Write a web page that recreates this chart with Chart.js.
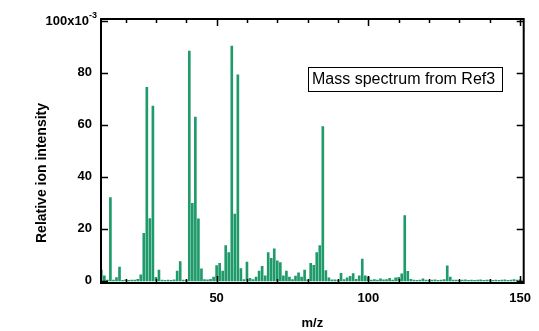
<!DOCTYPE html>
<html><head><meta charset="utf-8">
<script src="https://cdn.jsdelivr.net/npm/chart.js@4.4.1/dist/chart.umd.min.js"></script>
<style>html,body{margin:0;padding:0;background:#fff}</style>
</head><body>
<canvas id="c" width="539" height="331"></canvas>
<script>
// m/z values (categories)
const massToCharge = [
 12,13,14,15,16,17,18,19,20,21,22,23,24,25,26,27,28,29,30,31,32,33,34,35,36,37,38,39,40,
 41,42,43,44,45,46,47,48,49,50,51,52,53,54,55,56,57,58,59,60,61,62,63,64,65,66,67,68,69,70,
 71,72,73,74,75,76,77,78,79,80,81,82,83,84,85,86,87,88,89,90,91,92,93,94,95,96,97,98,99,100,
 101,102,103,104,105,106,107,108,109,110,111,112,113,114,115,116,117,118,119,120,
 121,122,123,124,125,126,127,128,129,130,131,132,133,134,135,136,137,138,139,140,
 141,142,143,144,145,146,147,148,149,150
];
// relative ion intensity, in units of 1e-3
const intensity = [
 4.2,2.0,0.3,32.0,0.3,1.3,5.3,0.2,0.4,0.2,0.3,0.3,0.6,2.3,18.3,74.4,23.9,67.2,1.4,4.2,0.3,0.2,0.3,0.2,0.4,3.8,7.4,0.3,0.3,
 88.3,29.8,62.9,23.8,4.6,0.5,0.4,0.6,1.5,5.9,6.8,3.8,13.6,10.9,90.2,25.7,79.2,4.7,0.5,7.2,1.0,0.5,1.5,3.8,5.6,2.0,10.9,8.7,12.3,7.7,
 7.0,2.0,3.8,1.5,0.5,1.9,3.1,1.5,4.2,0.4,6.8,6.0,10.9,13.6,59.3,4.0,1.2,0.4,0.4,0.3,2.9,0.5,1.2,1.8,2.8,0.6,2.0,8.4,2.0,1.5,
 0.3,0.5,0.3,0.8,0.4,0.5,1.0,0.3,1.2,1.4,2.7,25.1,3.7,0.6,0.3,0.2,0.3,0.8,0.3,0.2,
 0.3,0.4,0.2,0.3,0.5,5.8,1.5,0.3,0.3,0.2,0.3,0.4,0.2,0.3,0.2,0.3,0.4,0.2,0.3,0.3,
 0.2,0.3,0.2,0.3,0.4,0.2,0.3,0.5,0.3,0.4
];
const xTickValues = [50, 100, 150];
const xMinorTickValues = [20, 30, 40, 60, 70, 80, 90, 110, 120, 130, 140];
const yTickValues = [0, 20, 40, 60, 80, 100];
const yTopLabel = '100x10';
const yTopLabelExponent = '-3';
const xTitle = 'm/z';
const yTitle = 'Relative ion intensity';
const legendText = 'Mass spectrum from Ref3';

const FONT = "'Liberation Sans', Arial, sans-serif";

const framePlugin = {
  id: 'frame',
  afterDatasetsDraw(chart) {
    const ctx = chart.ctx, a = chart.chartArea;
    const xs = chart.scales.x, ys = chart.scales.y;
    ctx.save();
    ctx.strokeStyle = '#000';
    ctx.lineWidth = 1.5;
    ctx.beginPath();
    const tick = (vals, len) => {
      vals.forEach(v => {
        const px = Math.round(xs.getPixelForValue(v)) + 0.5;
        ctx.moveTo(px, a.bottom); ctx.lineTo(px, a.bottom - len);
        ctx.moveTo(px, a.top); ctx.lineTo(px, a.top + len);
      });
    };
    tick(xTickValues, 7);
    tick(xMinorTickValues, 4);
    yTickValues.forEach(v => {
      const py = Math.round(ys.getPixelForValue(v)) + 0.5;
      ctx.moveTo(a.left, py); ctx.lineTo(a.left + 7, py);
      ctx.moveTo(a.right, py); ctx.lineTo(a.right - 7, py);
    });
    ctx.stroke();
    ctx.lineWidth = 2;
    ctx.strokeRect(a.left, a.top, a.right - a.left, a.bottom - a.top);
    const yTop = ys.getPixelForValue(yTickValues[yTickValues.length - 1]);
    ctx.fillStyle = '#000';
    ctx.textBaseline = 'middle';
    ctx.textAlign = 'right';
    ctx.font = 'bold 13px ' + FONT;
    ctx.fillText(yTopLabel, a.left - 12, yTop + 0.5);
    ctx.textAlign = 'left';
    ctx.font = 'bold 9px ' + FONT;
    ctx.fillText(yTopLabelExponent, a.left - 12, yTop - 5);
    ctx.save();
    ctx.translate(42, 173);
    ctx.rotate(-Math.PI / 2);
    ctx.textAlign = 'center';
    ctx.font = 'bold 14px ' + FONT;
    ctx.fillText(yTitle, 0, 0);
    ctx.restore();
    const bx = a.left + 207, by = a.top + 48, bw = 194, bh = 24;
    ctx.fillStyle = '#fff';
    ctx.fillRect(bx, by, bw, bh);
    ctx.lineWidth = 1;
    ctx.strokeStyle = '#000';
    ctx.strokeRect(bx + 0.5, by + 0.5, bw, bh);
    ctx.fillStyle = '#000';
    ctx.textAlign = 'left';
    ctx.font = '16px ' + FONT;
    ctx.fillText(legendText, bx + 4, by + bh / 2 + 1);
    ctx.restore();
  }
};

new Chart(document.getElementById('c'), {
  type: 'bar',
  data: {
    datasets: [{
      label: legendText,
      data: massToCharge.map((m, i) => ({ x: m, y: intensity[i] })),
      backgroundColor: '#1f9a6a',
      borderWidth: 0,
      barThickness: 2,
      grouped: false
    }]
  },
  options: {
    responsive: false,
    animation: false,
    devicePixelRatio: 1,
    layout: { padding: { top: 19, right: 11, left: 0, bottom: 0 } },
    plugins: { legend: { display: false }, tooltip: { enabled: false } },
    scales: {
      x: {
        type: 'linear',
        offset: false,
        min: 11.9, max: 151.2,
        afterBuildTicks: s => { s.ticks = xTickValues.map(v => ({ value: v })); },
        afterFit: s => { s.height = 48; },
        grid: { display: false, drawTicks: false, offset: false },
        border: { display: false },
        ticks: { color: '#000', font: { family: FONT, size: 13, weight: 'bold' }, padding: 8, maxRotation: 0, autoSkip: false },
        title: { display: true, text: xTitle, color: '#000', font: { family: FONT, size: 13, weight: 'bold' }, padding: { top: 0, bottom: 0 } }
      },
      y: {
        min: -0.8, max: 100.6,
        afterBuildTicks: s => { s.ticks = yTickValues.map(v => ({ value: v })); },
        afterFit: s => { s.width = 101; },
        grid: { display: false, drawTicks: false },
        border: { display: false },
        ticks: {
          color: '#000', font: { family: FONT, size: 13, weight: 'bold' }, padding: 9,
          callback: v => (v === yTickValues[yTickValues.length - 1] ? '' : String(v))
        }
      }
    }
  },
  plugins: [framePlugin]
});
</script>
</body></html>
